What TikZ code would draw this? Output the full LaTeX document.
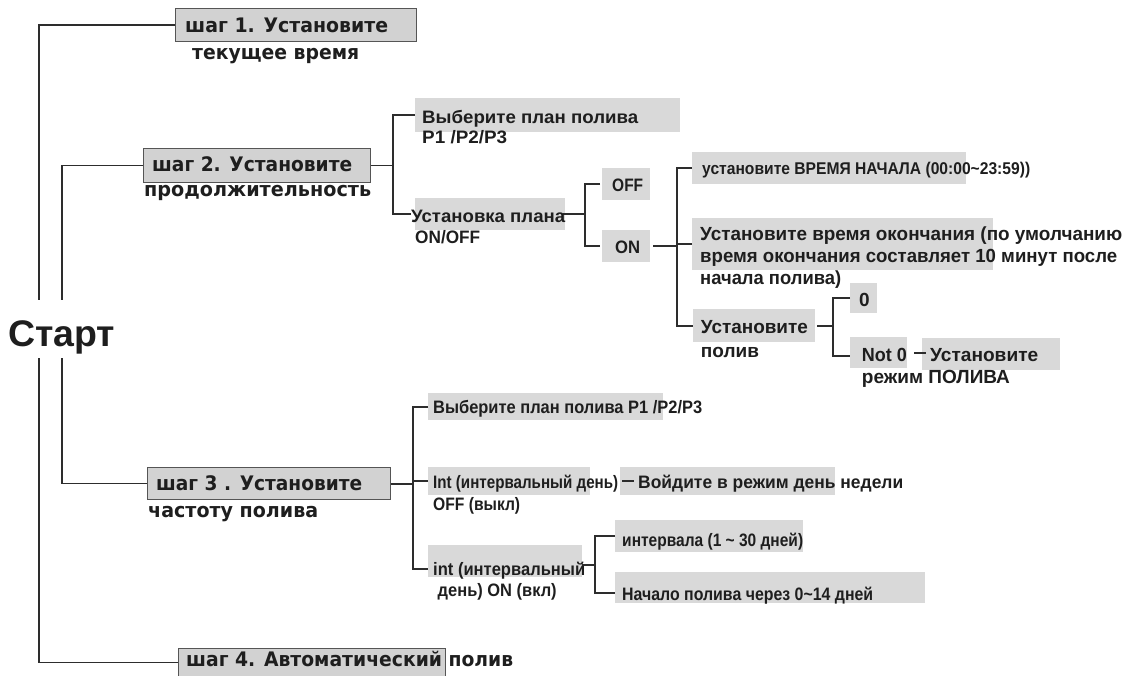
\documentclass[tikz,border=0pt]{standalone}
\usepackage{fontspec}
\usepackage{graphicx}
\setmainfont{Liberation Sans}
\newfontfamily\lab{Liberation Sans Bold}
\newfontfamily\stepf{DejaVu Sans Bold}
\newcommand\tw[2]{\resizebox{#1pt}{\height}{#2}}
\definecolor{ink}{RGB}{30,30,30}
\definecolor{boxgray}{RGB}{217,217,217}
\definecolor{stepgray}{RGB}{210,210,210}
\definecolor{stepline}{RGB}{85,85,85}
\definecolor{lin}{RGB}{45,45,45}
\begin{document}
\begin{tikzpicture}[x=1pt,y=-1pt,
 conn/.style={draw=lin, line width=1.8pt},
 trunk/.style={draw=lin, line width=1.5pt},
 gbox/.style={fill=boxgray, draw=none, inner sep=0pt, anchor=north west},
 sbox/.style={fill=stepgray, draw=stepline, line width=1.2pt, inner sep=0pt, anchor=north west},
 txt/.style={anchor=base west, inner sep=0pt, text=ink, font=\lab\fontsize{18}{22}\selectfont},
 txtb/.style={txt, font=\lab\fontsize{19}{22}\selectfont},
 txts/.style={txt, font=\lab\fontsize{17}{22}\selectfont},
 stxt/.style={anchor=base west, inner sep=0pt, text=ink, font=\stepf\fontsize{20}{24}\selectfont},
]
\useasboundingbox (0,0) rectangle (1124,676);

% branch coordinates
\coordinate (vA) at (39,0);
\coordinate (vB) at (62,0);
\coordinate (v2) at (393,0);
\coordinate (v3) at (585,0);
\coordinate (v4) at (677,0);
\coordinate (v5) at (833,0);
\coordinate (v6) at (413,0);
\coordinate (v7) at (595,0);

% step boxes
\node[sbox, minimum width=241pt, minimum height=33pt] (s1box) at (175,8) {};
\node[sbox, minimum width=227pt, minimum height=34pt] (s2box) at (143,148) {};
\node[sbox, minimum width=243pt, minimum height=32pt] (s3box) at (147,467) {};
\node[sbox, minimum width=267pt, minimum height=28pt] (s4box) at (178,648) {};

% gray boxes
\node[gbox, minimum width=265pt, minimum height=34pt] (g21) at (415,98) {};
\node[gbox, minimum width=150pt, minimum height=32pt] (g22) at (415,198) {};
\node[gbox, minimum width=48pt, minimum height=32pt] (goff) at (602,168) {};
\node[gbox, minimum width=48pt, minimum height=32pt] (gon) at (602,230) {};
\node[gbox, minimum width=274pt, minimum height=32pt] (gstart) at (692,152) {};
\node[gbox, minimum width=301pt, minimum height=52pt] (gend) at (692,218) {};
\node[gbox, minimum width=122pt, minimum height=33pt] (gset) at (693,309) {};
\node[gbox, minimum width=27pt, minimum height=30pt] (gzero) at (850,283) {};
\node[gbox, minimum width=57pt, minimum height=31pt] (gnot) at (850,337) {};
\node[gbox, minimum width=138pt, minimum height=32pt] (gmode) at (922,338) {};
\node[gbox, minimum width=235pt, minimum height=27pt] (g31) at (428,393) {};
\node[gbox, minimum width=162pt, minimum height=28pt] (g32a) at (428,467) {};
\node[gbox, minimum width=215pt, minimum height=28pt] (g32b) at (620,467) {};
\node[gbox, minimum width=154pt, minimum height=32pt] (g33) at (428,545) {};
\node[gbox, minimum width=188pt, minimum height=32pt] (gint) at (615,520) {};
\node[gbox, minimum width=310pt, minimum height=31pt] (gbeg) at (615,572) {};

% connectors
\draw[trunk] (s1box.west) -- (s1box.west -| vA) -- (s4box.west -| vA) -- (s4box.west);
\draw[trunk] (s2box.west) -- (s2box.west -| vB) -- (s3box.west -| vB) -- (s3box.west);

\draw[conn] (s2box.east) -- (s2box.east -| v2);
\draw[conn] (g21.west) -- (g21.west -| v2) -- (g22.west -| v2) -- ([xshift=-4pt]g22.west);
\draw[conn] ([xshift=-2pt]g22.east) -- (g22.east -| v3);
\draw[conn] ([xshift=-2pt]goff.west) -- (goff.west -| v3) -- (gon.west -| v3) -- ([xshift=-2pt]gon.west);
\draw[conn] ([xshift=3pt]gon.east) -- (gon.east -| v4);
\draw[conn] (gstart.west) -- (gstart.west -| v4) -- (gset.west -| v4) -- (gset.west);
\draw[conn] (gend.west) -- (gend.west -| v4);
\draw[conn] ([xshift=2pt]gset.east) -- (gset.east -| v5);
\draw[conn] (gzero.west) -- (gzero.west -| v5) -- ([yshift=-3pt]gnot.west -| v5) -- ([yshift=-3pt]gnot.west);
\draw[conn] ([xshift=7pt]gnot.east) -- ([xshift=19pt]gnot.east);

\draw[conn] (s3box.east) -- (s3box.east -| v6);
\draw[conn] (g31.west) -- (g31.west -| v6) -- ([yshift=-8pt]g33.west -| v6) -- ([yshift=-8pt]g33.west);
\draw[conn] (g32a.west) -- (g32a.west -| v6);
\draw[conn] ([xshift=2pt]g32b.west) -- ([xshift=14pt]g32b.west);
\draw[conn] ([yshift=-4pt]g33.east) -- ([yshift=-4pt]g33.east -| v7);
\draw[conn] (gint.west) -- (gint.west -| v7) -- ([yshift=-5pt]gbeg.west -| v7) -- ([yshift=-5pt]gbeg.west);

% start
\node[anchor=base west, inner xsep=2pt, inner ysep=0pt, fill=white, text height=47pt, text depth=11pt, text=ink,
 font=\lab\fontsize{37}{40}\selectfont] (start) at (6,346.7) {\tw{107}{Старт}};

% step texts
\node[stxt] (s1a) at (185,32.3) {\tw{203}{шаг 1. Установите}};
\node[stxt] (s1b) at (192,60) {\tw{167}{текущее время}};
\node[stxt] (s2a) at (152,171.7) {\tw{200}{шаг 2. Установите}};
\node[stxt] (s2b) at (144,196.7) {\tw{227}{продолжительность}};
\node[stxt] (s3a) at (156,490.7) {\tw{206}{шаг 3 . Установите}};
\node[stxt] (s3b) at (148,517) {\tw{170}{частоту полива}};
\node[stxt] (s4a) at (186,666.7) {\tw{327}{шаг 4. Автоматический полив}};

% other texts
\node[txt] (t21a) at (422,123.3) {\tw{216}{Выберите план полива}};
\node[txt] (t21b) at (422,143.3) {\tw{85}{P1 /P2/P3}};
\node[txt] (t22a) at (411,222.7) {\tw{154}{Установка плана}};
\node[txt] (t22b) at (415,244) {\tw{65}{ON/OFF}};
\node[txt] (toff) at (612,191.7) {\tw{31}{OFF}};
\node[txt] (ton) at (615,254) {\tw{25}{ON}};
\node[txts] (tstart) at (702,175) {\tw{328}{установите ВРЕМЯ НАЧАЛА (00:00\textasciitilde23:59))}};
\node[txtb] (tend1) at (700,240.7) {\tw{422}{Установите время окончания (по умолчанию}};
\node[txtb] (tend2) at (700,262.3) {\tw{417}{время окончания составляет 10 минут после}};
\node[txtb] (tend3) at (700,284) {\tw{141}{начала полива)}};
\node[txtb] (tset1) at (700.7,334) {\tw{107}{Установите}};
\node[txtb] (tset2) at (700.7,357.3) {\tw{58}{полив}};
\node[txtb] (tzero) at (859,306) {0};
\node[txtb] (tnot) at (861.7,361.7) {\tw{45}{Not 0}};
\node[txtb] (tmode1) at (930,361.7) {\tw{108}{Установите}};
\node[txtb] (tmode2) at (861.7,383.3) {\tw{148}{режим ПОЛИВА}};
\node[txt] (t31) at (433,413.3) {\tw{269}{Выберите план полива P1 /P2/P3}};
\node[txt] (t32a) at (433,488.3) {\tw{185}{Int (интервальный день)}};
\node[txt] (t32b) at (638,488.3) {\tw{265}{Войдите в режим день недели}};
\node[txt] (t32c) at (433,510.7) {\tw{87}{OFF (выкл)}};
\node[txt] (t33a) at (433,575) {\tw{152}{int (интервальный}};
\node[txt] (t33b) at (437.5,596.7) {\tw{119}{день) ON (вкл)}};
\node[txt] (tint) at (622,546.7) {\tw{181}{интервала (1 \textasciitilde\ 30 дней)}};
\node[txt] (tbeg) at (622,600.7) {\tw{251}{Начало полива через 0\textasciitilde14 дней}};
\end{tikzpicture}
\end{document}
